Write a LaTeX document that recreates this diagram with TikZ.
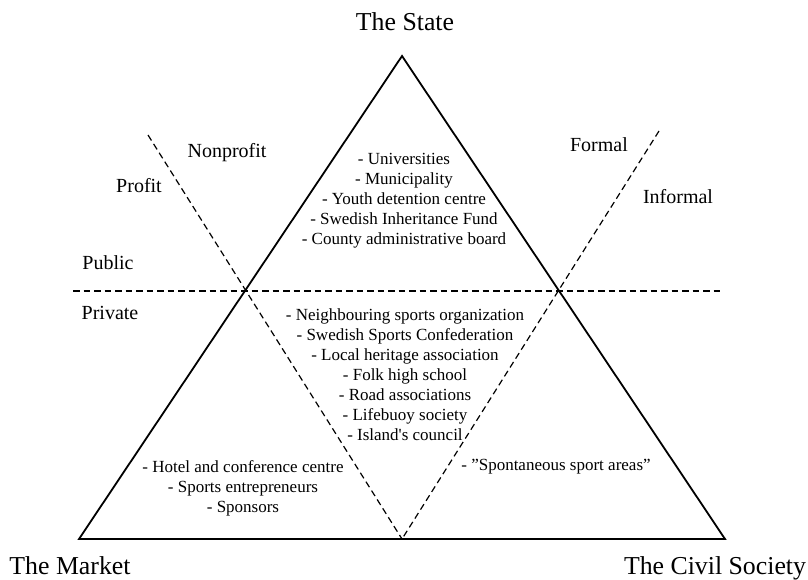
\documentclass[tikz,border=0pt]{standalone}
\usepackage{fontspec}
\setmainfont[Ligatures=TeXOff]{Liberation Serif}
\begin{document}
\begin{tikzpicture}[x=1pt,y=-1pt,
  side/.style={line width=1.8pt},
  divider/.style={line width=1.2pt,dash pattern=on 6.5pt off 4pt},
  corner/.style={font=\fontsize{25.8}{30}\selectfont},
  region/.style={font=\fontsize{20}{24}\selectfont},
  itemlist/.style={font=\fontsize{17}{20}\selectfont,align=center,inner sep=0pt}]
\useasboundingbox (0,0) rectangle (808,579);
% triangle corners
\coordinate (apex) at (402,56);
\coordinate (bl) at (79,539);
\coordinate (br) at (725,539);
\coordinate (bm) at (402,539);
% divider ends
\coordinate (hl) at (73,291);
\coordinate (hr) at (720,291);
\coordinate (dl) at (148,135);
\coordinate (dr) at (659,131);
\draw[side,line join=miter] (apex) -- (bl) -- (br) -- cycle;
\draw[divider] (hl) -- (hr);
\draw[divider] (dl) -- (bm);
\draw[divider] (dr) -- (bm);
% corner labels
\node[corner] (state) at (405,22) {The State};
\node[corner] (market) at (70,566) {The Market};
\node[corner] (civil) at (715,568) {The Civil Society};
% region labels
\node[region] (nonprofit) at (227,153) {Nonprofit};
\node[region] (profit) at (139,186) {Profit};
\node[region] (public) at (108,263) {Public};
\node[region] (private) at (110,313) {Private};
\node[region] (formal) at (599,145) {Formal};
\node[region] (informal) at (678,197) {Informal};
% item lists
\node[itemlist] (statelist) at (404,201) {- Universities\\- Municipality\\- Youth detention centre\\- Swedish Inheritance Fund\\- County administrative board};
\node[itemlist] (civillist) at (405,375) {- Neighbouring sports organization\\- Swedish Sports Confederation\\- Local heritage association\\- Folk high school\\- Road associations\\- Lifebuoy society\\- Island's council};
\node[itemlist] (marketlist) at (243,488) {- Hotel and conference centre\\- Sports entrepreneurs\\- Sponsors};
\node[itemlist] (informallist) at (556,467) {- ”Spontaneous sport areas”};
\end{tikzpicture}
\end{document}
